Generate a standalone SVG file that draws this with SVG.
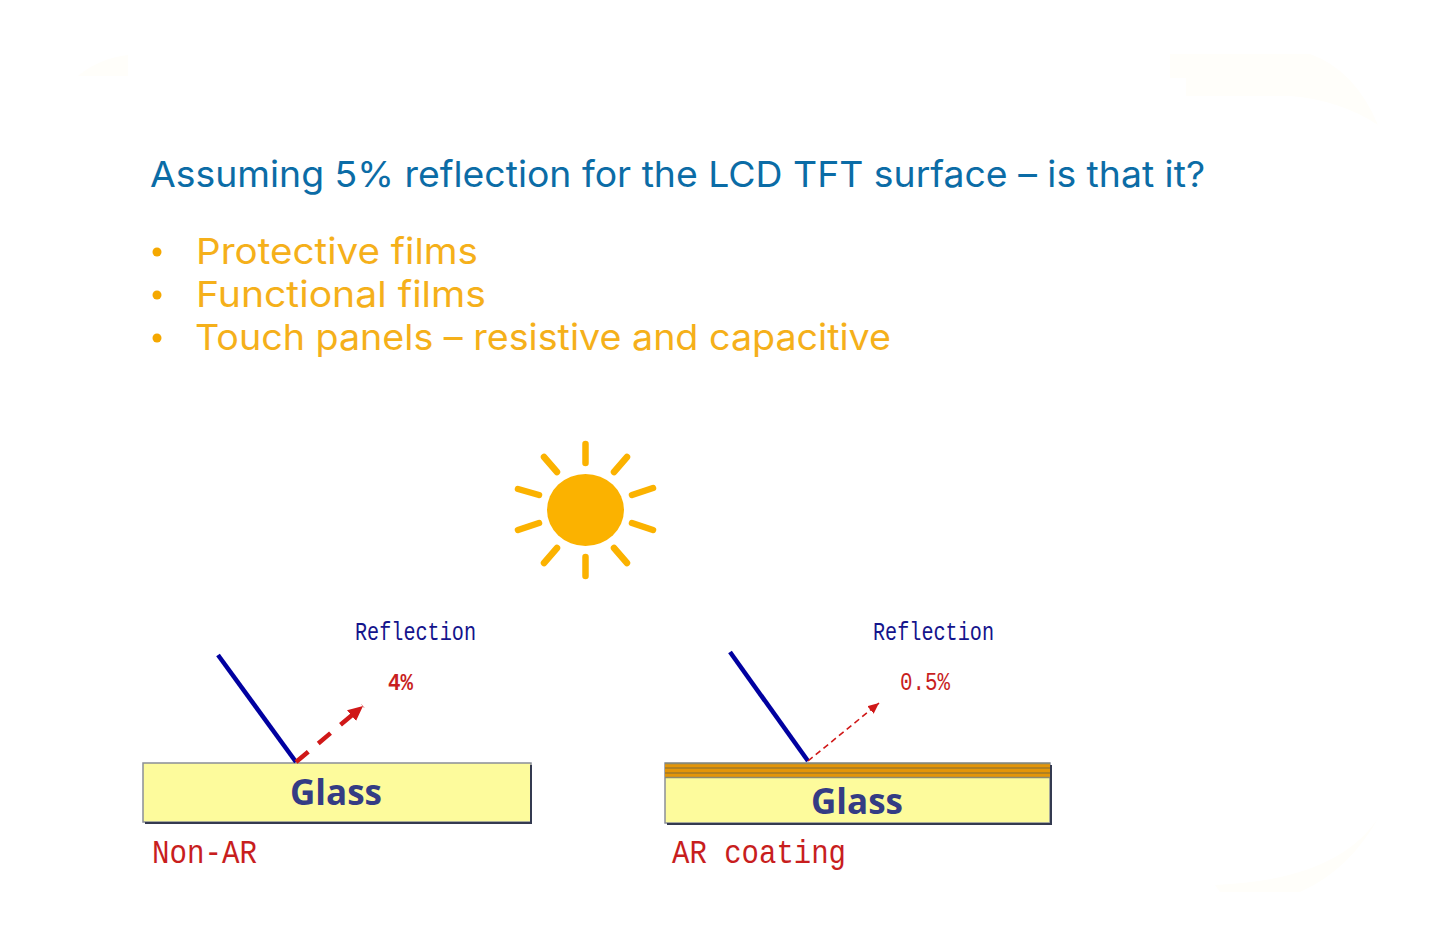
<svg xmlns="http://www.w3.org/2000/svg" width="1443" height="947" viewBox="0 0 1443 947">
<defs>
<marker id="ah1" markerUnits="userSpaceOnUse" markerWidth="17" markerHeight="15" refX="15" refY="7" orient="auto"><path d="M0 0L15 7L0 14z" fill="#d01818"/></marker>
<marker id="ah2" markerUnits="userSpaceOnUse" markerWidth="14" markerHeight="12" refX="11" refY="5" orient="auto"><path d="M0 0L11 5L0 10z" fill="#d01818"/></marker>
</defs>
<style>
.head{font-family:"Inter","Open Sans","Liberation Sans",sans-serif;font-size:36px;fill:#0b6ca6;font-weight:400}
.bul{font-family:"Inter","Open Sans","Liberation Sans",sans-serif;font-size:36px;fill:#f5b01a;font-weight:400}
.blt{fill:#f5a800}
.mono{font-family:"Liberation Mono","DejaVu Sans Mono",monospace}
.ref{fill:#14148c;font-size:26px}
.pct{fill:#c81e1e;font-size:24px;font-weight:700}
.pct2{fill:#c81e1e;font-size:26px}
.cap{fill:#c81e1e;font-size:33px}
.glass{font-family:"Open Sans","Liberation Sans",sans-serif;font-weight:700;font-size:35px;fill:#343c84;text-anchor:middle}
.plate{fill:#fdfb9c;stroke:#8a8f98;stroke-width:1.5}
.edge{fill:none;stroke:#343a50;stroke-width:2}
.ray{stroke:#0000a0;stroke-width:4.5;fill:none}
.ray1{stroke:#d01818;stroke-width:4.5;stroke-dasharray:16 13;fill:none}
.ray2{stroke:#d01818;stroke-width:1.6;stroke-dasharray:6 4;fill:none}
.beam{stroke:#fbb200;stroke-width:6.5;stroke-linecap:round}
</style>
<rect width="1443" height="947" fill="#fff"/>
<g id="bg-marks" fill="#fffefa">
<path d="M1170 54H1310Q1355 70 1378 125Q1340 100 1290 96H1186V78H1170z"/>
<path d="M78 76Q100 58 128 55V76z"/>
<path d="M1215 885Q1340 880 1380 815Q1350 870 1300 892H1220z"/>
</g>
<g id="title"><text class="head" x="150" y="187" textLength="1055" lengthAdjust="spacingAndGlyphs">Assuming 5% reflection for the LCD TFT surface – is that it?</text></g>
<g id="bullets">
<circle class="blt" cx="157" cy="252" r="4.5"/><circle class="blt" cx="157" cy="295" r="4.5"/><circle class="blt" cx="157" cy="338" r="4.5"/>
<text class="bul" x="196" y="264" textLength="282" lengthAdjust="spacingAndGlyphs">Protective films</text>
<text class="bul" x="196" y="307" textLength="290" lengthAdjust="spacingAndGlyphs">Functional films</text>
<text class="bul" x="195" y="350" textLength="696" lengthAdjust="spacingAndGlyphs">Touch panels – resistive and capacitive</text>
</g>
<g id="sun">
<ellipse cx="585.500" cy="510" rx="38.500" ry="36" fill="#fbb200"/>
<g class="beam">
<line x1="585.500" y1="444" x2="585.500" y2="463"/>
<line x1="585.500" y1="557" x2="585.500" y2="576"/>
<line x1="544" y1="457" x2="557" y2="472"/>
<line x1="627" y1="457" x2="614" y2="472"/>
<line x1="544" y1="563" x2="557" y2="548"/>
<line x1="627" y1="563" x2="614" y2="548"/>
<line x1="518" y1="489" x2="539" y2="495"/>
<line x1="653" y1="488" x2="632" y2="495"/>
<line x1="518" y1="530" x2="539" y2="523"/>
<line x1="653" y1="530" x2="632" y2="523"/>
</g>
</g>
<g id="non-ar">
<rect class="plate" x="143" y="763" width="388" height="59"/>
<path class="edge" d="M531 765V823H145"/>
<text class="glass" x="336" y="805" textLength="92" lengthAdjust="spacingAndGlyphs">Glass</text>
<text class="mono ref" x="355" y="640" textLength="121" lengthAdjust="spacingAndGlyphs">Reflection</text>
<text class="mono pct" x="388" y="690" textLength="25" lengthAdjust="spacingAndGlyphs">4%</text>
<text class="mono cap" x="152" y="863" textLength="105" lengthAdjust="spacingAndGlyphs">Non-AR</text>
</g>
<g id="ar-coating">
<rect class="plate" x="665" y="763" width="385" height="60"/>
<rect x="665" y="763" width="385" height="15" fill="#e39508"/>
<path d="M665 768H1050M665 773H1050" stroke="#a07a28" stroke-width="1.500"/>
<path d="M665 763.500H1050M665 777.500H1050" stroke="#8a8a70" stroke-width="1.500"/>
<path class="edge" d="M1051 765V824H667"/>
<text class="glass" x="857" y="814" textLength="92" lengthAdjust="spacingAndGlyphs">Glass</text>
<text class="mono ref" x="873" y="640" textLength="121" lengthAdjust="spacingAndGlyphs">Reflection</text>
<text class="mono pct2" x="900" y="690" textLength="50" lengthAdjust="spacingAndGlyphs">0.5%</text>
<text class="mono cap" x="672" y="863" textLength="174" lengthAdjust="spacingAndGlyphs">AR coating</text>
</g>
<g id="connectors">
<line class="ray" x1="218" y1="655" x2="296" y2="762"/>
<line class="ray" x1="730" y1="652" x2="808" y2="761"/>
<line class="ray1" x1="296" y1="762" x2="363" y2="706" marker-end="url(#ah1)"/>
<line class="ray2" x1="808" y1="761" x2="879" y2="703" marker-end="url(#ah2)"/>
</g>
</svg>
